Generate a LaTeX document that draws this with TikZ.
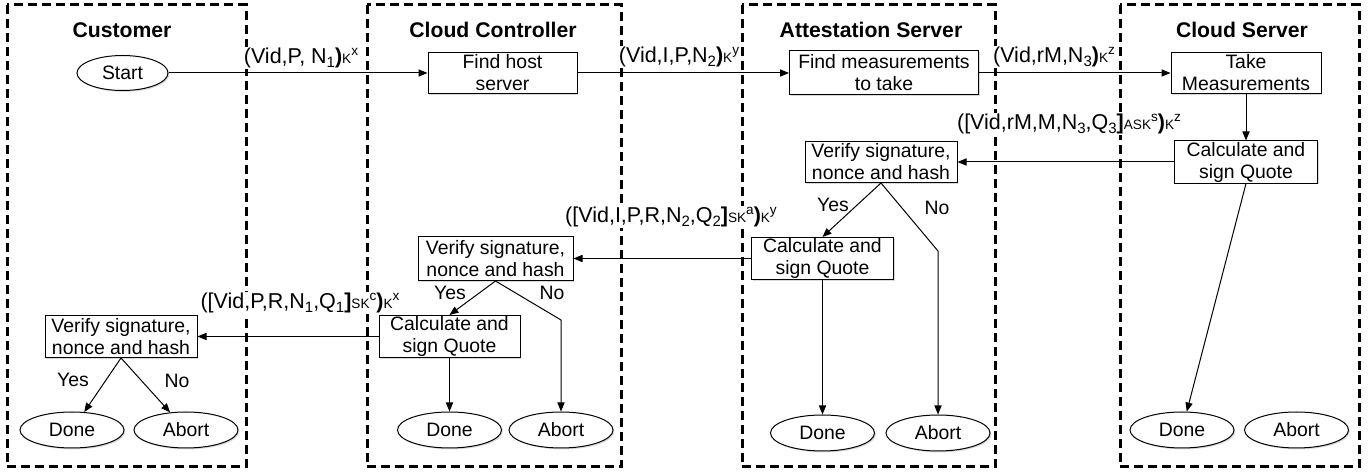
\documentclass[tikz,border=0pt]{standalone}
\usepackage{fontspec}
\setmainfont{Liberation Sans}
\usepackage{tikz}
\usetikzlibrary{shapes.geometric,arrows.meta,shadows}

\newcommand{\keyed}[2]{{\fontsize{6.8}{7}\selectfont #1\raisebox{3.8pt}{#2}}}
\newcommand{\low}[1]{\raisebox{-2.2pt}{\fontsize{7.5}{8}\selectfont #1}}

\begin{document}
\begin{tikzpicture}[x=0.5pt, y=-0.5pt,
    lane/.style={draw, line width=1.5pt, dash pattern=on 4.5pt off 2.5pt},
    lanetitle/.style={font=\fontsize{10.6}{12}\selectfont\bfseries},
    task/.style={draw, rectangle, align=center, inner sep=0.5pt, line width=0.5pt,
        fill=white, minimum height=20.5pt, font=\fontsize{9.7}{11}\selectfont,
        drop shadow={shadow xshift=0.7pt, shadow yshift=-0.7pt, opacity=0.3}},
    terminal/.style={draw, ellipse, inner sep=0pt, line width=0.5pt, fill=white,
        minimum width=52pt, minimum height=18pt, font=\fontsize{9.7}{11}\selectfont,
        drop shadow={shadow xshift=0.7pt, shadow yshift=-0.7pt, opacity=0.3}},
    msg/.style={inner sep=0.5pt, fill=white, font=\fontsize{10.75}{12}\selectfont},
    answer/.style={inner sep=0pt, font=\fontsize{9.7}{11}\selectfont},
    flow/.style={-{Triangle[length=4.5pt,width=3.6pt]}, line width=0.5pt}]
    \useasboundingbox (0,0) rectangle (1372,475);

    \draw[lane] (7,5) rectangle (246,467);
    \draw[lane] (367,5) rectangle (621,467);
    \draw[lane] (742,5) rectangle (995,467);
    \draw[lane] (1120,5) rectangle (1359,467);

    \node[lanetitle] (custtitle) at (122,30) {Customer};
    \node[lanetitle] (cctitle) at (493,30) {Cloud Controller};
    \node[lanetitle] (astitle) at (871,30) {Attestation Server};
    \node[lanetitle] (cstitle) at (1242,30) {Cloud Server};

    \node[terminal, minimum width=45.5pt, minimum height=17.5pt] (start) at (122.5,73) {Start};
    \node[task, minimum width=74.5pt] (findhost) at (502.5,73) {Find host\\server};
    \node[task, minimum width=94.5pt, minimum height=22pt] (findmeas) at (884,73) {Find measurements\\to take};
    \node[task, minimum width=75pt] (takemeas) at (1246,73) {Take\\Measurements};
    \node[task, minimum width=71.5pt] (cscalc) at (1246,162) {Calculate and\\sign Quote};
    \node[task, minimum width=76pt] (asverify) at (881,162) {Verify signature,\\nonce and hash};
    \node[task, minimum width=71pt] (ascalc) at (822.5,258.5) {Calculate and\\sign Quote};
    \node[task, minimum width=77.5pt, minimum height=22pt] (ccverify) at (495.5,258.5) {Verify signature,\\nonce and hash};
    \node[task, minimum width=70.5pt] (cccalc) at (449.5,336.5) {Calculate and\\sign Quote};
    \node[task, minimum width=76pt, minimum height=21pt] (custverify) at (121,336.5) {Verify signature,\\nonce and hash};

    \node[terminal] (custdone) at (72,430) {Done};
    \node[terminal] (custabort) at (186,430) {Abort};
    \node[terminal] (ccdone) at (449.5,430) {Done};
    \node[terminal] (ccabort) at (561,430) {Abort};
    \node[terminal] (asdone) at (822.5,433) {Done};
    \node[terminal] (asabort) at (938,433) {Abort};
    \node[terminal] (csdone) at (1182,430) {Done};
    \node[terminal] (csabort) at (1296.5,430) {Abort};

    \node[msg] (m1) at (301,58) {(Vid,P, N\low{1}\textbf{)}\keyed{K}{x}};
    \node[msg] (m2) at (679,57) {(Vid,I,P,N\low{2}\textbf{)}\keyed{K}{y}};
    \node[msg] (m3) at (1054,57) {(Vid,rM,N\low{3}\textbf{)}\keyed{K}{z}};
    \node[msg] (m4) at (1069,124) {([Vid,rM,M,N\low{3},Q\low{3}\textbf{]}\keyed{ASK}{s}\textbf{)}\keyed{K}{z}};
    \node[msg] (m5) at (671,217) {([Vid,I,P,R,N\low{2},Q\low{2}\textbf{]}\keyed{SK}{a}\textbf{)}\keyed{K}{y}};
    \node[msg] (m6) at (300,303) {([Vid,P,R,N\low{1},Q\low{1}\textbf{]}\keyed{SK}{c}\textbf{)}\keyed{K}{x}};

    \node[answer] (asyes) at (833,205) {Yes};
    \node[answer] (asno) at (937,208) {No};
    \node[answer] (ccyes) at (450,293) {Yes};
    \node[answer] (ccno) at (552,293) {No};
    \node[answer] (custyes) at (73,380) {Yes};
    \node[answer] (custno) at (177,381) {No};

    \coordinate (asbend) at (938,251);
    \coordinate (ccbend) at (561,320);

    \draw[flow] (start) -- (findhost);
    \draw[flow] (findhost) -- (findmeas);
    \draw[flow] (findmeas) -- (takemeas);
    \draw[flow] (takemeas) -- (cscalc);
    \draw[flow] (cscalc) -- (asverify);
    \draw[flow] (cscalc.south) -- (csdone);
    \draw[flow] (asverify.south) -- (ascalc.north);
    \draw[flow] (asverify.south) -- (asbend) -- (asabort);
    \draw[flow] (ascalc) -- (asdone);
    \draw[flow] (ascalc) -- (ccverify);
    \draw[flow] (ccverify.south) -- (cccalc.north);
    \draw[flow] (ccverify.south) -- (ccbend) -- (ccabort);
    \draw[flow] (cccalc) -- (ccdone);
    \draw[flow] (cccalc) -- (custverify);
    \draw[flow] (custverify.south) -- (custdone);
    \draw[flow] (custverify.south) -- (custabort);
\end{tikzpicture}
\end{document}
